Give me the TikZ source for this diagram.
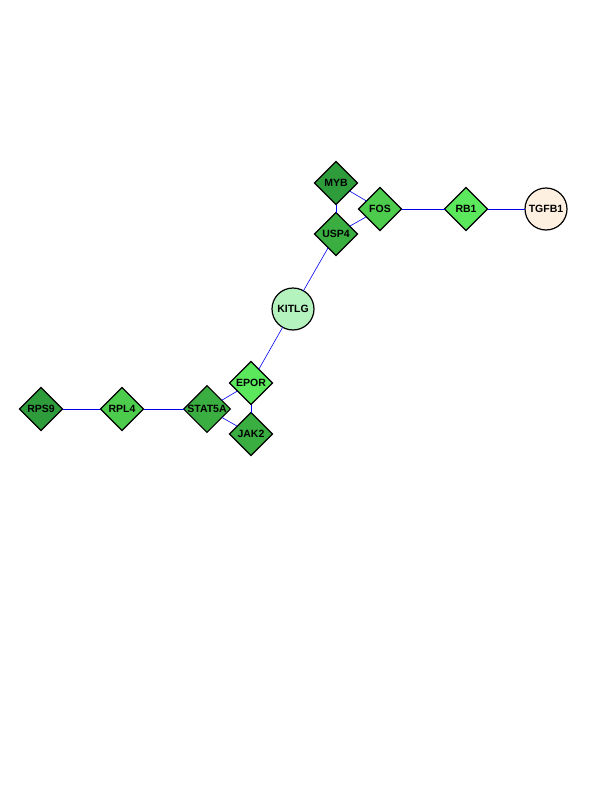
\documentclass[tikz,border=0pt]{standalone}
\usepackage{tikz}
\usepackage{xcolor}
\usepackage{fontspec}
\setmainfont{Liberation Sans}
\usetikzlibrary{shapes.geometric}
\definecolor{gdark}{HTML}{2E9C3A}
\definecolor{gmid}{HTML}{3AAE40}
\definecolor{glight}{HTML}{4CCB4C}
\definecolor{gbright}{HTML}{5CE85C}
\definecolor{kitfill}{HTML}{B4F2BE}
\definecolor{tgffill}{HTML}{FDF0E0}
\definecolor{edgeblue}{HTML}{0000F0}

\begin{document}
\begin{tikzpicture}[x=1pt,y=-1pt]
\tikzstyle{every node}+=[inner sep=0pt, outer sep=0pt, font=\fontsize{10.5}{12}\selectfont\bfseries]
\tikzstyle{gene}=[diamond, draw=black, line width=1.2pt, minimum width=43pt, minimum height=43pt]
\tikzstyle{ligand}=[circle, draw=black, line width=1.2pt, minimum size=42pt]
\tikzstyle{link}=[edgeblue, line width=0.6pt]
\useasboundingbox (0,0) rectangle (612,792);
\node [gene, fill=gdark] (myb) at (336,183) {MYB};
\node [gene, fill=glight] (fos) at (380,209) {FOS};
\node [gene, fill=gbright] (rb1) at (466,209) {RB1};
\node [ligand, fill=tgffill] (tgfb1) at (546,209) {TGFB1};
\node [gene, fill=gmid] (usp4) at (336,234) {USP4};
\node [ligand, fill=kitfill] (kitlg) at (293,309) {KITLG};
\node [gene, fill=gbright] (epor) at (251,383) {EPOR};
\node [gene, fill=gmid] (stat5a) at (207,409) {STAT5A};
\node [gene, fill=gmid] (jak2) at (251,434) {JAK2};
\node [gene, fill=glight] (rpl4) at (122,409) {RPL4};
\node [gene, fill=gdark] (rps9) at (41,409) {RPS9};
\draw [link] (myb) -- (fos);
\draw [link] (myb) -- (usp4);
\draw [link] (usp4) -- (fos);
\draw [link] (fos) -- (rb1);
\draw [link] (rb1) -- (tgfb1);
\draw [link] (usp4) -- (kitlg);
\draw [link] (kitlg) -- (epor);
\draw [link] (epor) -- (stat5a);
\draw [link] (epor) -- (jak2);
\draw [link] (stat5a) -- (jak2);
\draw [link] (stat5a) -- (rpl4);
\draw [link] (rpl4) -- (rps9);
\end{tikzpicture}
\end{document}
